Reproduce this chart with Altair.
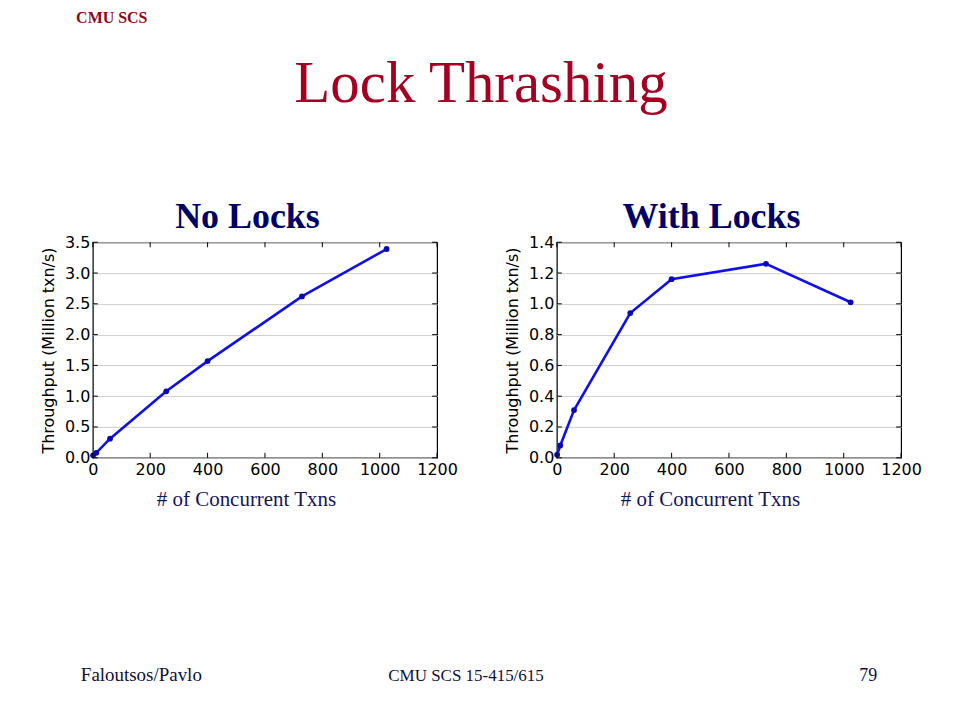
import altair as alt
import pandas as pd

# ---- data ----
txns = [1, 12, 60, 256, 400, 729, 1024]
no_locks = [0.04, 0.08, 0.31, 1.08, 1.57, 2.62, 3.39]
with_locks = [0.02, 0.08, 0.31, 0.94, 1.16, 1.26, 1.01]
x_ticks = [0, 200, 400, 600, 800, 1000, 1200]
y_ticks_left = [0.0, 0.5, 1.0, 1.5, 2.0, 2.5, 3.0, 3.5]
y_ticks_right = [0.0, 0.2, 0.4, 0.6, 0.8, 1.0, 1.2, 1.4]

W, H = 345, 216
SERIF = "Liberation Serif"
SANS = "DejaVu Sans"
LINE = "#1010ea"
PT = "#0a0ab4"


def panel(values, yticks, ymax, texts):
    df = pd.DataFrame({"x": txns, "y": values})
    xt = pd.DataFrame({"x": x_ticks})
    yt = pd.DataFrame({"y": yticks})
    xs = alt.Scale(domain=[0, 1200], nice=False, zero=False)
    ys = alt.Scale(domain=[0, ymax], nice=False, zero=False)
    x_enc = alt.X(
        "x:Q", scale=xs,
        axis=alt.Axis(values=x_ticks, format="d", title=None, grid=False, ticks=False, domain=False,
                      labelFont=SANS, labelFontSize=16, labelColor="black",
                      labelPadding=4, labelFlush=False, labelOverlap=False, labelBound=False),
    )
    y_enc = alt.Y(
        "y:Q", scale=ys,
        axis=alt.Axis(values=yticks, format=".1f", title="Throughput (Million txn/s)",
                      titleFont=SANS, titleFontSize=16, titleFontWeight="normal",
                      titleColor="black", titlePadding=8,
                      grid=True, gridColor="#cfcfcf", gridWidth=1,
                      ticks=False, domain=False,
                      labelFont=SANS, labelFontSize=16, labelColor="black",
                      labelPadding=3, labelFlush=False, labelOverlap=False, labelBound=False),
    )
    base = alt.Chart(df)
    line = base.mark_line(color=LINE, strokeWidth=2.6).encode(x=x_enc, y=y_enc)
    pts = base.mark_circle(color=PT, size=34, opacity=1).encode(x=x_enc, y=y_enc)
    xb = alt.Chart(xt).mark_rule(color="black", strokeWidth=1).encode(
        x=x_enc, y=alt.value(H), y2=alt.value(H - 5))
    xtp = alt.Chart(xt).mark_rule(color="black", strokeWidth=1).encode(
        x=x_enc, y=alt.value(0), y2=alt.value(5))
    yl = alt.Chart(yt).mark_rule(color="black", strokeWidth=1).encode(
        y=y_enc, x=alt.value(0), x2=alt.value(5))
    yr = alt.Chart(yt).mark_rule(color="black", strokeWidth=1).encode(
        y=y_enc, x=alt.value(W), x2=alt.value(W - 5))
    layers = [line, pts, xb, xtp, yl, yr] + texts
    return alt.layer(*layers).properties(width=W, height=H)


def txt(s, x, y, size, color, weight="normal", align="center", font=SERIF):
    return alt.Chart(pd.DataFrame({"t": [s]})).mark_text(
        font=font, fontSize=size, color=color, fontWeight=weight, align=align,
        baseline="alphabetic").encode(text="t:N", x=alt.value(x), y=alt.value(y))


# left panel origin at slide (92, 239)
pin = alt.Chart(pd.DataFrame({"a": [0]})).mark_rect(fillOpacity=0, strokeOpacity=0).encode(
    x=alt.value(8 - 92), x2=alt.value(952 - 92), y=alt.value(8 - 239), y2=alt.value(712 - 239))

left_texts = [
    pin,
    txt("CMU SCS", 111 - 92, 19 - 239, 16, "#8b0a1a", weight="bold"),
    txt("Lock Thrashing", 481 - 92, 98 - 239, 59, "#a50021"),
    txt("No Locks", 247 - 92, 225 - 239, 36, "#000066", weight="bold"),
    txt("# of Concurrent Txns", 246 - 92, 503 - 239, 21, "#141460"),
    txt("Faloutsos/Pavlo", 80 - 92, 679 - 239, 19, "#10103c", align="left"),
    txt("CMU SCS 15-415/615", 466 - 92, 679 - 239, 17, "#10103c"),
    txt("79", 860 - 92, 679 - 239, 18, "#10103c", align="left"),
]
right_texts = [
    txt("With Locks", 712 - 557, 225 - 239, 36, "#000066", weight="bold"),
    txt("# of Concurrent Txns", 711 - 557, 503 - 239, 21, "#141460"),
]

left = panel(no_locks, y_ticks_left, 3.5, left_texts)
right = panel(with_locks, y_ticks_right, 1.4, right_texts)

chart = alt.hconcat(left, right, spacing=120, bounds="flush").properties(
    padding=0, background="white"
).configure_view(stroke="black", strokeWidth=1.2)

chart.save("out.html", embed_options={"renderer": "svg", "actions": False})
